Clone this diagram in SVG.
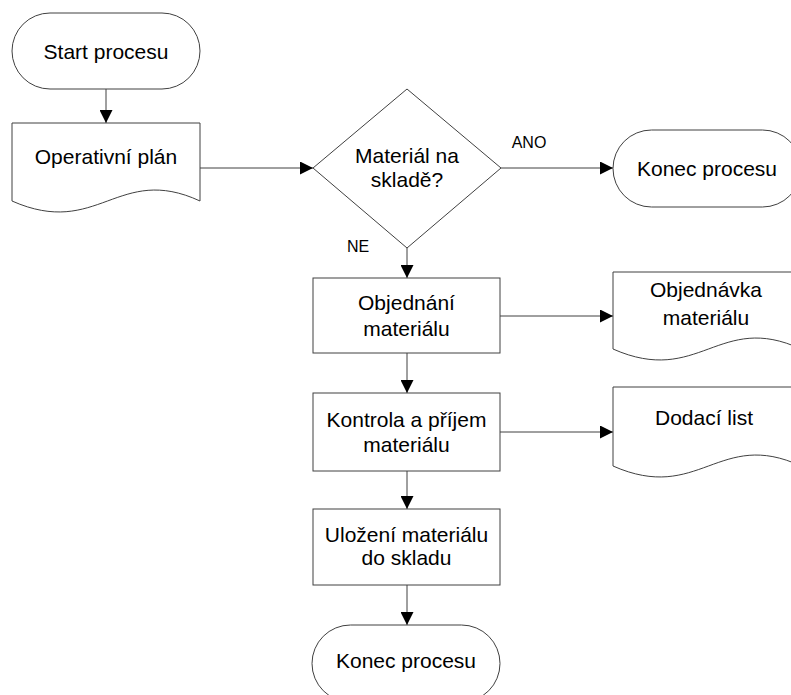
<svg xmlns="http://www.w3.org/2000/svg" width="791" height="695" viewBox="0 0 791 695">
  <defs>
    <marker id="arrow" markerWidth="13" markerHeight="13" refX="13" refY="6.5" orient="auto" markerUnits="userSpaceOnUse">
      <path d="M0,0 L13,6.5 L0,13 Z" fill="#000"/>
    </marker>
  </defs>
  <style>
    .shape { fill: #fff; stroke: #404040; stroke-width: 1; }
    .conn { fill: none; stroke: #404040; stroke-width: 1; marker-end: url(#arrow); }
    text { font-family: "Liberation Sans", Arial, sans-serif; fill: #000; text-anchor: middle; }
    .main { font-size: 21px; }
    .lbl { font-size: 16px; }
  </style>
  <rect width="791" height="695" fill="#fff"/>

  <!-- connectors -->
  <g id="connectors">
    <path class="conn" d="M106,89 V123"/>
    <path class="conn" d="M200,168 H313"/>
    <path class="conn" d="M501,168 H613"/>
    <path class="conn" d="M407,248 V278"/>
    <path class="conn" d="M500,316 H613"/>
    <path class="conn" d="M407,353 V393"/>
    <path class="conn" d="M500,432 H613"/>
    <path class="conn" d="M407,471 V509"/>
    <path class="conn" d="M407,585 V625"/>
    <text class="lbl" x="529" y="148">ANO</text>
    <text class="lbl" x="358" y="252">NE</text>
  </g>

  <g id="start">
    <rect class="shape" x="12" y="13" width="188" height="76" rx="38" ry="38"/>
    <text class="main" x="106" y="58.5">Start procesu</text>
  </g>

  <g id="operativni-plan">
    <path class="shape" d="M12,123 H200 V201 C118,163 98,239 12,201 Z"/>
    <text class="main" x="106" y="163.5">Operativní plán</text>
  </g>

  <g id="decision">
    <polygon class="shape" points="313,168 407,89 501,168 407,248"/>
    <text class="main" x="407" y="163.3">Materiál na</text>
    <text class="main" x="407" y="186.7">skladě?</text>
  </g>

  <g id="konec-ano">
    <rect class="shape" x="613" y="130" width="188" height="77" rx="38.5" ry="38.5"/>
    <text class="main" x="707" y="175.5">Konec procesu</text>
  </g>

  <g id="objednani">
    <rect class="shape" x="313" y="278" width="187" height="75"/>
    <text class="main" x="406.5" y="310">Objednání</text>
    <text class="main" x="406.5" y="335.5">materiálu</text>
  </g>

  <g id="objednavka">
    <path class="shape" d="M613,272 H801 V349 C719,311 699,387 613,349 Z"/>
    <text class="main" x="706" y="296.5">Objednávka</text>
    <text class="main" x="706" y="325">materiálu</text>
  </g>

  <g id="kontrola">
    <rect class="shape" x="313" y="393" width="187" height="78"/>
    <text class="main" x="406.5" y="426.5">Kontrola a příjem</text>
    <text class="main" x="406.5" y="451.5">materiálu</text>
  </g>

  <g id="dodaci-list">
    <path class="shape" d="M613,387 H801 V466 C719,428 699,504 613,466 Z"/>
    <text class="main" x="704" y="425">Dodací list</text>
  </g>

  <g id="ulozeni">
    <rect class="shape" x="313" y="509" width="187" height="76"/>
    <text class="main" x="406.5" y="541.5">Uložení materiálu</text>
    <text class="main" x="406.5" y="565">do skladu</text>
  </g>

  <g id="konec">
    <rect class="shape" x="312" y="625" width="188" height="77" rx="38.5" ry="38.5"/>
    <text class="main" x="406" y="668">Konec procesu</text>
  </g>
</svg>
